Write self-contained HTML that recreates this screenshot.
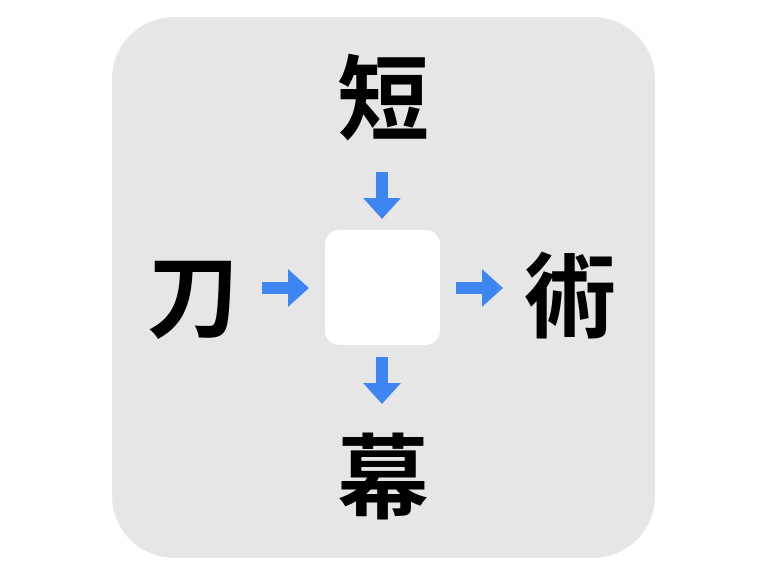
<!DOCTYPE html>
<html><head><meta charset="utf-8"><style>
html,body{margin:0;padding:0;background:#fff;width:768px;height:576px;overflow:hidden}
.bg{position:absolute;left:112px;top:17px;width:543px;height:541px;background:#e6e6e6;border-radius:62px}
.box{position:absolute;left:325px;top:230px;width:115px;height:115px;background:#fff;border-radius:14px}
.k{position:absolute;font-family:"Liberation Sans","Noto Sans CJK JP",sans-serif;font-weight:700;font-size:92px;line-height:92px;width:100px;text-align:center;color:#000}
svg{position:absolute;left:0;top:0}
</style></head><body>
<div class="bg"></div>
<div class="box"></div>
<div class="k" style="left:333px;top:55px">短</div>
<div class="k" style="left:143px;top:253px">刀</div>
<div class="k" style="left:520px;top:253px">術</div>
<div class="k" style="left:333px;top:434px">幕</div>
<svg width="768" height="576">
<g fill="#3d85f0">
<polygon points="376,172 388,172 388,198 401,198 382,219 363,198 376,198"/>
<polygon points="376,357 388,357 388,383 401,383 382,404 363,383 376,383"/>
<polygon points="262,282 288,282 288,269 309,288 288,307 288,294 262,294"/>
<polygon points="456,282 482,282 482,269 503,288 482,307 482,294 456,294"/>
</g>
</svg>
</body></html>
